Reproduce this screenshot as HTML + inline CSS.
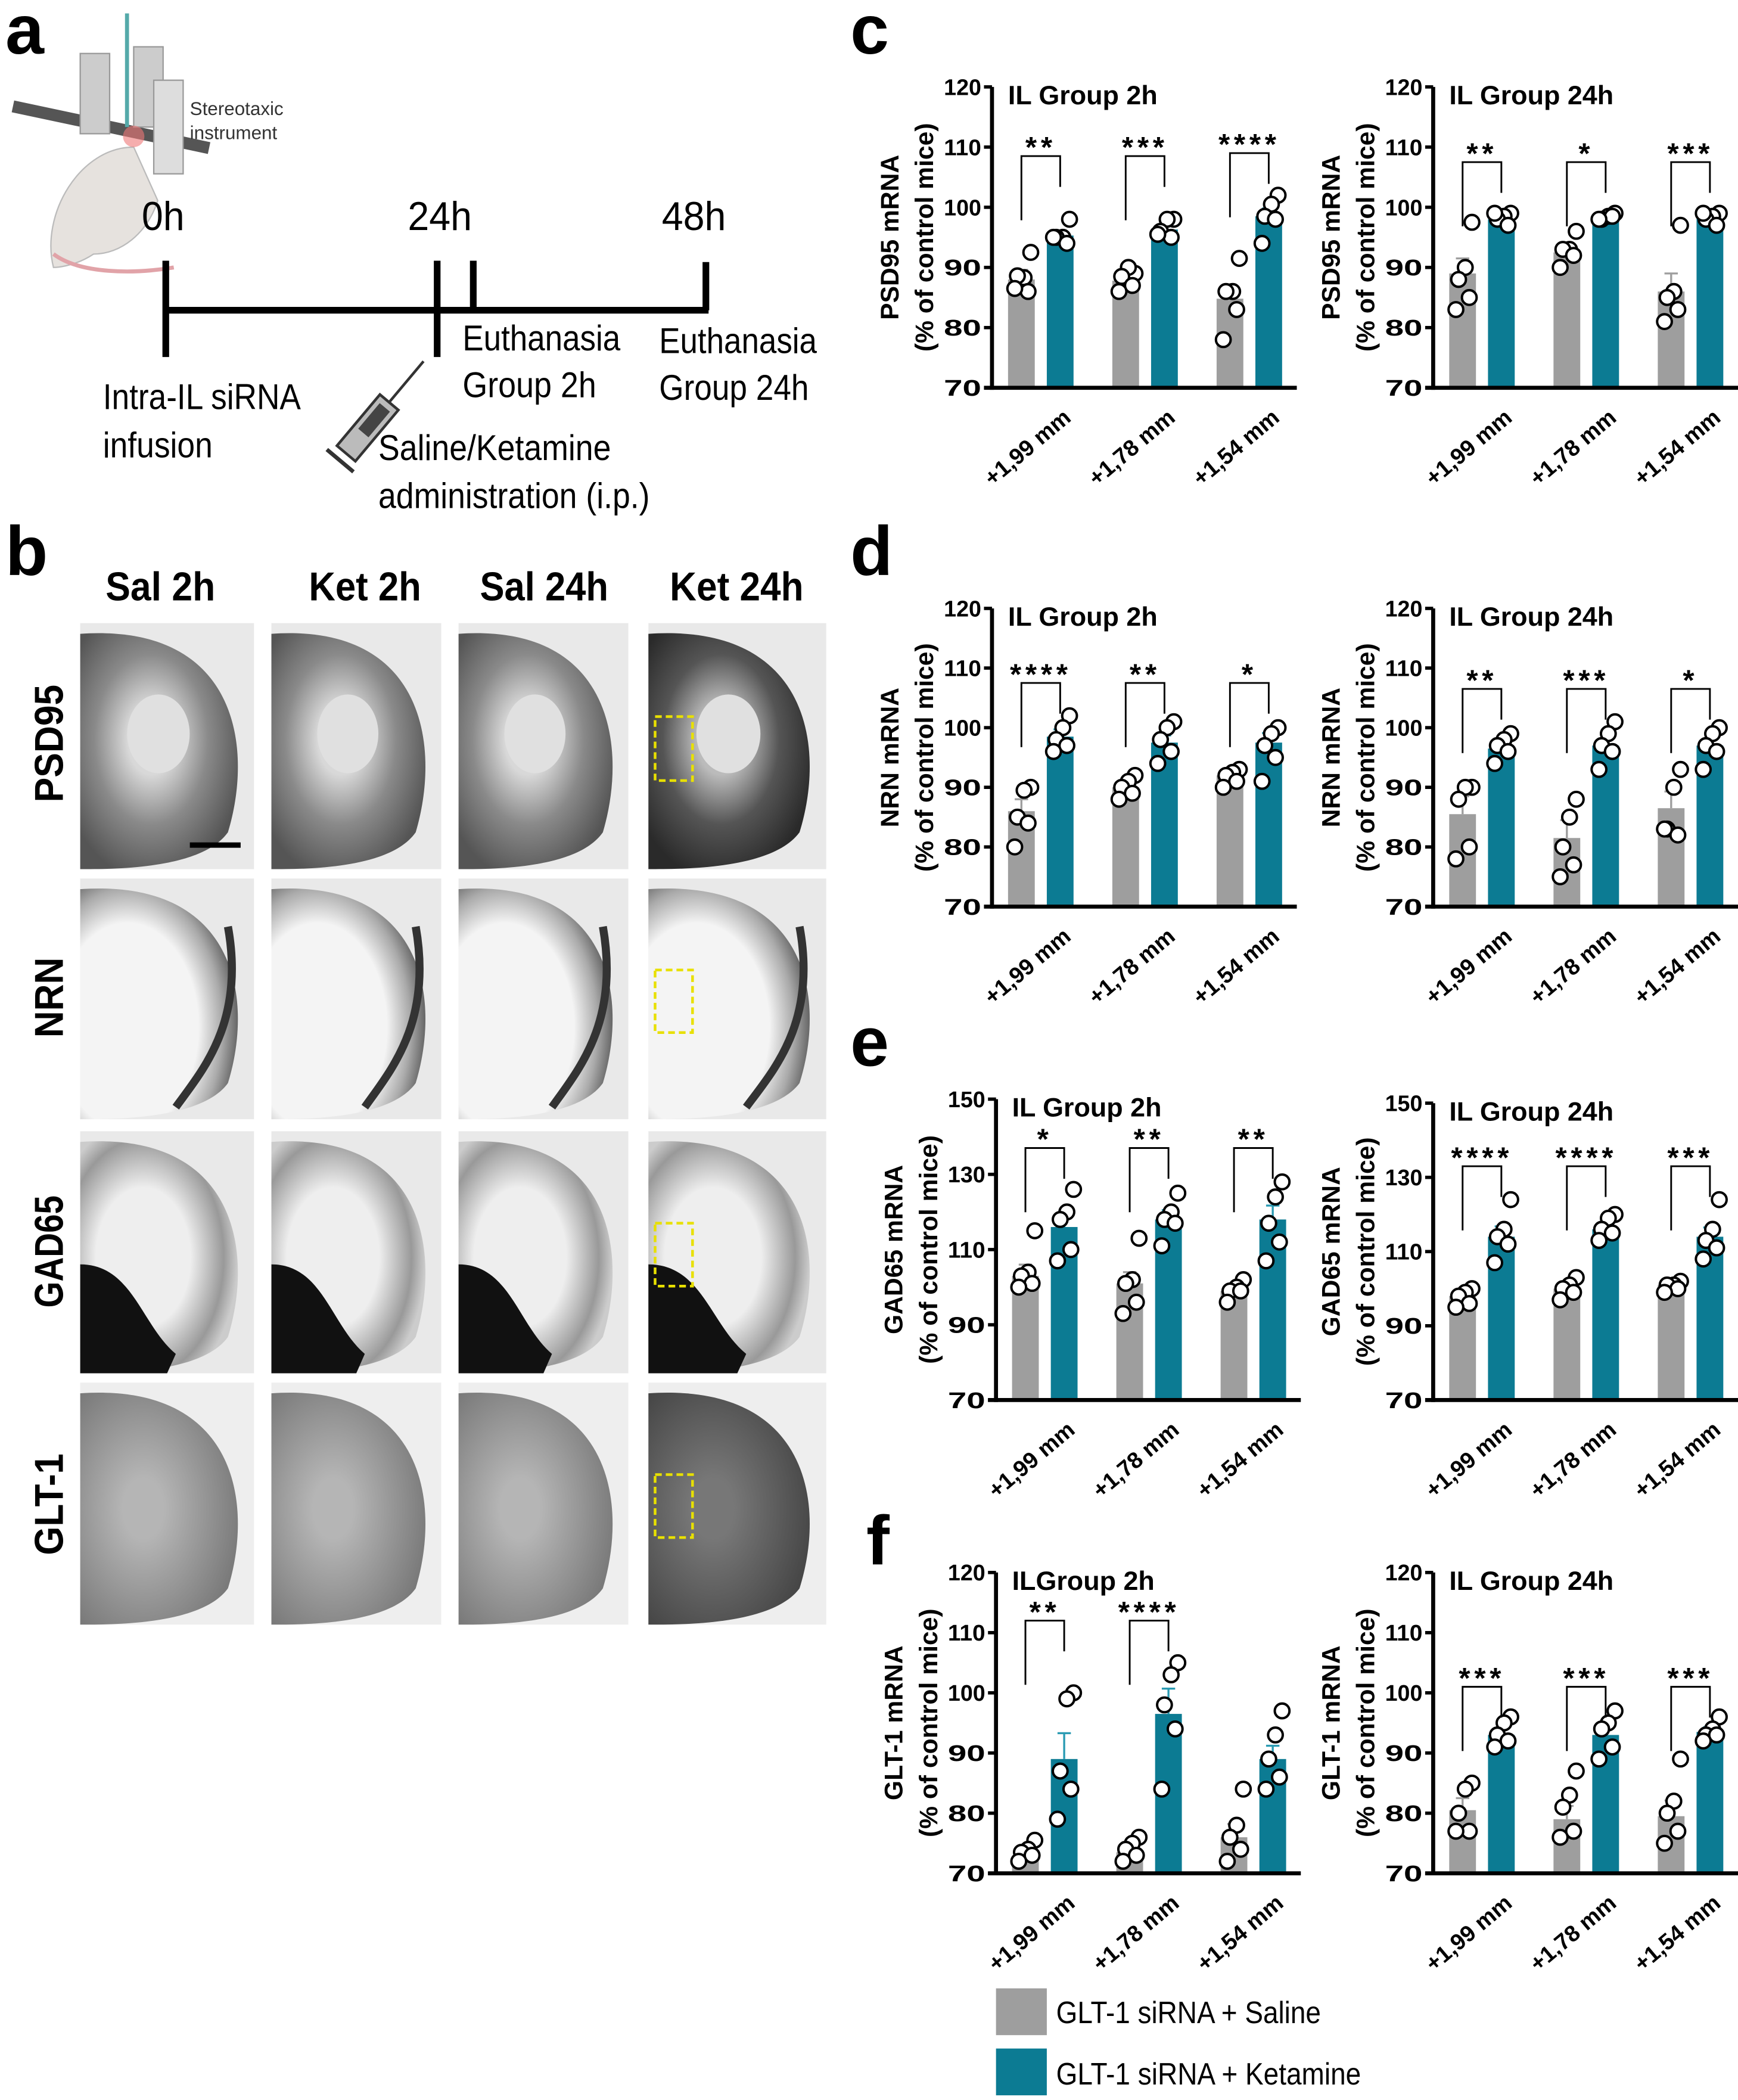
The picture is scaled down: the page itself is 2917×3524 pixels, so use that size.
<!DOCTYPE html>
<html><head><meta charset="utf-8"><style>
html,body{margin:0;padding:0;background:#fff}
svg{display:block}
text{font-family:"Liberation Sans",sans-serif}
</style></head><body>
<svg id="fig" width="2917" height="3524" viewBox="0 0 1300 1570.5" preserveAspectRatio="none" xmlns="http://www.w3.org/2000/svg">
<defs>
<radialGradient id="gPsd" cx="0.45" cy="0.45" r="0.6"><stop offset="0.25" stop-color="#d8d8d8"/><stop offset="0.6" stop-color="#8a8a8a"/><stop offset="1" stop-color="#555"/></radialGradient>
<radialGradient id="gPsdD" cx="0.45" cy="0.45" r="0.6"><stop offset="0.25" stop-color="#bbb"/><stop offset="0.6" stop-color="#555"/><stop offset="1" stop-color="#2a2a2a"/></radialGradient>
<radialGradient id="gNrn" cx="0.3" cy="0.6" r="0.75"><stop offset="0.6" stop-color="#f4f4f4"/><stop offset="0.8" stop-color="#aaa"/><stop offset="1" stop-color="#444"/></radialGradient>
<radialGradient id="gGad" cx="0.4" cy="0.5" r="0.6"><stop offset="0.5" stop-color="#eee"/><stop offset="0.85" stop-color="#999"/><stop offset="1" stop-color="#ccc"/></radialGradient>
<radialGradient id="gGlt" cx="0.4" cy="0.5" r="0.65"><stop offset="0.2" stop-color="#b5b5b5"/><stop offset="1" stop-color="#777"/></radialGradient>
<radialGradient id="gGltD" cx="0.4" cy="0.5" r="0.65"><stop offset="0.2" stop-color="#777"/><stop offset="1" stop-color="#444"/></radialGradient>
</defs>

<text x="4" y="40" font-size="52" font-weight="bold">a</text>
<text x="4" y="430" font-size="52" font-weight="bold">b</text>
<text x="636" y="40" font-size="52" font-weight="bold">c</text>
<text x="636" y="430" font-size="52" font-weight="bold">d</text>
<text x="636" y="797" font-size="52" font-weight="bold">e</text>
<text x="648" y="1170" font-size="52" font-weight="bold">f</text>

<g>
<path d="M40 200 C30 160 60 110 100 110 L118 150 C110 175 90 190 70 190 C55 200 40 200 40 200 Z" fill="#e6e2de" stroke="#bbb"/>
<path d="M40 190 C60 205 100 205 130 200" stroke="#e1a3a8" stroke-width="3" fill="none"/>
<rect x="8" y="90" width="150" height="9" fill="#555" transform="rotate(12 80 95)"/>
<rect x="60" y="40" width="22" height="60" fill="#ccc" stroke="#999"/>
<rect x="100" y="35" width="22" height="60" fill="#ccc" stroke="#999"/>
<rect x="115" y="60" width="22" height="70" fill="#ddd" stroke="#999"/>
<line x1="95" y1="10" x2="95" y2="95" stroke="#5aa" stroke-width="3"/>
<circle cx="100" cy="102" r="8" fill="#e77" opacity="0.6"/>
<text x="142" y="86" font-size="14" fill="#333">Stereotaxic</text>
<text x="142" y="104" font-size="14" fill="#333">instrument</text>
</g>
<g stroke="#000" stroke-width="5">
<line x1="122" y1="232" x2="530" y2="232"/>
<line x1="124" y1="195" x2="124" y2="267"/>
<line x1="327" y1="195" x2="327" y2="267"/>
<line x1="354" y1="195" x2="354" y2="232"/>
<line x1="528" y1="196" x2="528" y2="232"/>
</g>
<g font-size="30">
<text x="106" y="172" textLength="32" lengthAdjust="spacingAndGlyphs">0h</text>
<text x="305" y="172" textLength="48" lengthAdjust="spacingAndGlyphs">24h</text>
<text x="495" y="172" textLength="48" lengthAdjust="spacingAndGlyphs">48h</text>
<text x="346" y="262" font-size="27" textLength="118" lengthAdjust="spacingAndGlyphs">Euthanasia</text>
<text x="346" y="297" font-size="27" textLength="100" lengthAdjust="spacingAndGlyphs">Group 2h</text>
<text x="493" y="264" font-size="27" textLength="118" lengthAdjust="spacingAndGlyphs">Euthanasia</text>
<text x="493" y="299" font-size="27" textLength="112" lengthAdjust="spacingAndGlyphs">Group 24h</text>
<text x="77" y="306" font-size="27" textLength="148" lengthAdjust="spacingAndGlyphs">Intra-IL siRNA</text>
<text x="77" y="342" font-size="27" textLength="82" lengthAdjust="spacingAndGlyphs">infusion</text>
<text x="283" y="344" font-size="27" textLength="174" lengthAdjust="spacingAndGlyphs">Saline/Ketamine</text>
<text x="283" y="380" font-size="27" textLength="203" lengthAdjust="spacingAndGlyphs">administration (i.p.)</text>
</g>
<g transform="rotate(40 275 320)">
<rect x="266" y="295" width="18" height="50" fill="#bbb" stroke="#333" stroke-width="2"/>
<rect x="270" y="300" width="10" height="25" fill="#444"/>
<line x1="275" y1="295" x2="275" y2="255" stroke="#333" stroke-width="2"/>
<line x1="262" y1="352" x2="288" y2="352" stroke="#333" stroke-width="3"/>
</g>

<g font-size="30" font-weight="bold" text-anchor="middle">
<text x="120" y="449" textLength="82" lengthAdjust="spacingAndGlyphs">Sal 2h</text>
<text x="273" y="449" textLength="84" lengthAdjust="spacingAndGlyphs">Ket 2h</text>
<text x="407" y="449" textLength="96" lengthAdjust="spacingAndGlyphs">Sal 24h</text>
<text x="551" y="449" textLength="100" lengthAdjust="spacingAndGlyphs">Ket 24h</text>
</g>
<g font-size="30" font-weight="bold" text-anchor="middle">
<text transform="translate(47 556) rotate(-90)" textLength="88" lengthAdjust="spacingAndGlyphs">PSD95</text>
<text transform="translate(47 746) rotate(-90)" textLength="60" lengthAdjust="spacingAndGlyphs">NRN</text>
<text transform="translate(47 936) rotate(-90)" textLength="84" lengthAdjust="spacingAndGlyphs">GAD65</text>
<text transform="translate(47 1125) rotate(-90)" textLength="76" lengthAdjust="spacingAndGlyphs">GLT-1</text>
</g>
<g id="brains"></g>

<g id="charts"></g>

<g>
<rect x="745" y="1487" width="38" height="35" fill="#9e9e9e"/>
<text x="790" y="1513" font-size="23" textLength="198" lengthAdjust="spacingAndGlyphs">GLT-1 siRNA + Saline</text>
<rect x="745" y="1532" width="38" height="35" fill="#0c7b93"/>
<text x="790" y="1559" font-size="23" textLength="228" lengthAdjust="spacingAndGlyphs">GLT-1 siRNA + Ketamine</text>
</g>
</svg>
<script>
const NS="http://www.w3.org/2000/svg";
const categories=["+1,99 mm","+1,78 mm","+1,54 mm"];
const psd2hSalMean=[88,87.8,84.8], psd2hKetMean=[95.3,96.3,98.5];
const psd2hSalErr=[1.6,0.8,2.2], psd2hKetErr=[0.6,0.7,1.3];
const psd2hSalPts=[[92.5,88.3,88.6,86,86.5],[89,90,88.5,87,86],[91.5,86,86,83,78]];
const psd2hKetPts=[[98,95,95,94,95],[98,98,96,95,95.5],[102,100.5,98.5,98,94]];
const psd2hStars=["**","***","****"], psd2hBkt=[108.5,108.5,109];
const psd24hSalMean=[89,92.5,86], psd24hKetMean=[98,98.5,98.5];
const psd24hSalErr=[2.5,1.5,3], psd24hKetErr=[0.6,0.4,0.4];
const psd24hSalPts=[[97.5,90,88,85,83],[96,93,93,92,90],[97,86,85,83,81]];
const psd24hKetPts=[[99,98.5,98,97,99],[99,98.5,98,98.5,98],[99,98.5,98,97,99]];
const psd24hStars=["**","*","***"], psd24hBkt=[107.5,107.5,107.5];
const nrn2hSalMean=[86,90,92], nrn2hKetMean=[98.5,97.5,97.5];
const nrn2hSalErr=[2,0.7,0.6], nrn2hKetErr=[1.2,1.2,1.6];
const nrn2hSalPts=[[90,89.5,85,84,80],[92,91,90,89,88],[93,92.5,92,91,90]];
const nrn2hKetPts=[[102,100,98,97,96],[101,100,98,96,94],[100,99,97,95,91]];
const nrn2hStars=["****","**","*"], nrn2hBkt=[107.5,107.5,107.5];
const nrn24hSalMean=[85.5,81.5,86.5], nrn24hKetMean=[96.5,97,97];
const nrn24hSalErr=[3,3,2.8], nrn24hKetErr=[0.9,1.2,1.2];
const nrn24hSalPts=[[90,90,88,80,78],[88,85,80,77,75],[93,90,83,82,83]];
const nrn24hKetPts=[[99,98,97,96,94],[101,99,97,96,93],[100,99,97,96,93]];
const nrn24hStars=["**","***","*"], nrn24hBkt=[106.5,106.5,106.5];
const gad2hSalMean=[103,101,99], gad2hKetMean=[116,118,118];
const gad2hSalErr=[3,3,1.3], gad2hKetErr=[3.2,2.5,3.7];
const gad2hSalPts=[[115,104,103,101,100],[113,102,101,96,93],[102,100,99,99,96]];
const gad2hKetPts=[[126,120,118,110,107],[125,120,118,117,111],[128,124,117,112,107]];
const gad2hStars=["*","**","**"], gad2hBkt=[137,137,137];
const gad24hSalMean=[98,100,101], gad24hKetMean=[114,116,114];
const gad24hSalErr=[1,1,0.6], gad24hKetErr=[2.8,1.4,2.5];
const gad24hSalPts=[[100,99,98,96,95],[103,101,100,99,97],[102,101,101,100,99]];
const gad24hKetPts=[[124,116,114,112,107],[120,119,116,115,113],[124,116,113,111,108]];
const gad24hStars=["****","****","***"], gad24hBkt=[133,133,133];
const glt2hSalMean=[73,73.5,76], glt2hKetMean=[89,96.5,89];
const glt2hSalErr=[0.6,0.8,2.2], glt2hKetErr=[4.3,4.2,2.2];
const glt2hSalPts=[[75.5,74,73.5,73,72],[76,75,74,73,72],[84,78,76,74,72]];
const glt2hKetPts=[[100,99,87,84,79],[105,103,98,94,84],[97,93,89,86,84]];
const glt2hStars=["**","****",""], glt2hBkt=[112,112,null];
const glt24hSalMean=[80.5,79,79.5], glt24hKetMean=[93,93,93.5];
const glt24hSalErr=[2,2.2,2.6], glt24hKetErr=[1,1.4,0.8];
const glt24hSalPts=[[85,84,80,77,77],[87,83,81,77,76],[89,82,80,77,75]];
const glt24hKetPts=[[96,95,93,92,91],[97,95,94,91,89],[96,94,93,93,92]];
const glt24hStars=["***","***","***"], glt24hBkt=[101,101,101];

const ticks120=[70,80,90,100,110,120], ticks150=[70,90,110,130,150];

const charts=[
 {n:"psd95-2h",ax:742,top:65,bot:290,min:70,max:120,ticks:ticks120,title:"IL Group 2h",yl:"PSD95 mRNA",s:psd2hSalMean,k:psd2hKetMean,se:psd2hSalErr,ke:psd2hKetErr,sp:psd2hSalPts,kp:psd2hKetPts,st:psd2hStars,b:psd2hBkt},
 {n:"psd95-24h",ax:1072,top:65,bot:290,min:70,max:120,ticks:ticks120,title:"IL Group 24h",yl:"PSD95 mRNA",s:psd24hSalMean,k:psd24hKetMean,se:psd24hSalErr,ke:psd24hKetErr,sp:psd24hSalPts,kp:psd24hKetPts,st:psd24hStars,b:psd24hBkt},
 {n:"nrn-2h",ax:742,top:455,bot:678,min:70,max:120,ticks:ticks120,title:"IL Group 2h",yl:"NRN mRNA",s:nrn2hSalMean,k:nrn2hKetMean,se:nrn2hSalErr,ke:nrn2hKetErr,sp:nrn2hSalPts,kp:nrn2hKetPts,st:nrn2hStars,b:nrn2hBkt},
 {n:"nrn-24h",ax:1072,top:455,bot:678,min:70,max:120,ticks:ticks120,title:"IL Group 24h",yl:"NRN mRNA",s:nrn24hSalMean,k:nrn24hKetMean,se:nrn24hSalErr,ke:nrn24hKetErr,sp:nrn24hSalPts,kp:nrn24hKetPts,st:nrn24hStars,b:nrn24hBkt},
 {n:"gad65-2h",ax:745,top:822,bot:1047,min:70,max:150,ticks:ticks150,title:"IL Group 2h",yl:"GAD65 mRNA",s:gad2hSalMean,k:gad2hKetMean,se:gad2hSalErr,ke:gad2hKetErr,sp:gad2hSalPts,kp:gad2hKetPts,st:gad2hStars,b:gad2hBkt},
 {n:"gad65-24h",ax:1072,top:825,bot:1047,min:70,max:150,ticks:ticks150,title:"IL Group 24h",yl:"GAD65 mRNA",s:gad24hSalMean,k:gad24hKetMean,se:gad24hSalErr,ke:gad24hKetErr,sp:gad24hSalPts,kp:gad24hKetPts,st:gad24hStars,b:gad24hBkt},
 {n:"glt1-2h",ax:745,top:1176,bot:1401,min:70,max:120,ticks:ticks120,title:"ILGroup 2h",yl:"GLT-1 mRNA",s:glt2hSalMean,k:glt2hKetMean,se:glt2hSalErr,ke:glt2hKetErr,sp:glt2hSalPts,kp:glt2hKetPts,st:glt2hStars,b:glt2hBkt},
 {n:"glt1-24h",ax:1072,top:1176,bot:1401,min:70,max:120,ticks:ticks120,title:"IL Group 24h",yl:"GLT-1 mRNA",s:glt24hSalMean,k:glt24hKetMean,se:glt24hSalErr,ke:glt24hKetErr,sp:glt24hSalPts,kp:glt24hKetPts,st:glt24hStars,b:glt24hBkt}
];
function mk(tag,attrs,parent,txt){const e=document.createElementNS(NS,tag);for(const k in attrs)e.setAttribute(k,attrs[k]);if(txt!==undefined)e.textContent=txt;parent.appendChild(e);return e;}
const root=document.getElementById("charts");
const offs=[7,2,-3,5,-5];
charts.forEach(c=>{
 const g=mk("g",{},root);
 
 
 const y=v=>c.bot-(v-c.min)/(c.max-c.min)*(c.bot-c.top);
 const xs=i=>c.ax+22+i*78, xk=i=>c.ax+51+i*78;
 categories.forEach((cat,i)=>{
  [[xs(i),c.s[i],c.se[i],c.sp[i],"#9e9e9e","#9e9e9e","saline"],[xk(i),c.k[i],c.ke[i],c.kp[i],"#0c7b93","#2a9bb3","ketamine"]].forEach(([cx,m,e,pts,col,ecol,nm])=>{
   const r=mk("rect",{x:cx-10,y:y(m),width:20,height:c.bot-y(m),fill:col},g);
   
   
   mk("line",{x1:cx,x2:cx,y1:y(m),y2:y(m+e),stroke:ecol,"stroke-width":1.5},g);
   mk("line",{x1:cx-5,x2:cx+5,y1:y(m+e),y2:y(m+e),stroke:ecol,"stroke-width":1.5},g);
   pts.forEach((p,j)=>{
    const d=mk("circle",{cx:cx+offs[j],cy:y(p),r:5.5,fill:"#fff",stroke:"#000","stroke-width":1.8},g);
    
    
   });
  });
  if(c.b[i]!==null){
   const by=y(c.b[i]);
   mk("path",{d:`M${xs(i)} ${by+48} V${by} H${xk(i)} V${by+23}`,fill:"none",stroke:"#000","stroke-width":1.3},g);
   const s=mk("text",{x:(xs(i)+xk(i))/2,y:by+1,"font-size":22,"font-weight":"bold","text-anchor":"middle","letter-spacing":"3"},g,c.st[i]);
   
   
  }
  const tl=mk("text",{"font-size":17,"font-weight":"bold","text-anchor":"end",transform:`translate(${xs(i)+38} ${c.bot+24}) rotate(-40)`},g,cat);
  
  
 });
 mk("line",{x1:c.ax,x2:c.ax,y1:c.top,y2:c.bot+1.5,stroke:"#000","stroke-width":3},g);
 mk("line",{x1:c.ax-6,x2:c.ax+228,y1:c.bot,y2:c.bot,stroke:"#000","stroke-width":3},g);
 c.ticks.forEach(t=>{
  mk("line",{x1:c.ax-6,x2:c.ax,y1:y(t),y2:y(t),stroke:"#000","stroke-width":2.5},g);
  const tt=mk("text",{x:c.ax-8,y:y(t)+6,"font-size":17,"font-weight":"bold","text-anchor":"end",textLength:28,lengthAdjust:"spacingAndGlyphs"},g,t);
  
  
 });
 const ti=mk("text",{x:c.ax+12,y:c.top+13,"font-size":20,"font-weight":"bold"},g,c.title);
 
 
 const mid=(c.top+c.bot)/2;
 const y1=mk("text",{"font-size":19,"font-weight":"bold","text-anchor":"middle",transform:`translate(${c.ax-70} ${mid}) rotate(-90)`},g,c.yl);
 
 
 const y2=mk("text",{"font-size":19,"font-weight":"bold","text-anchor":"middle",transform:`translate(${c.ax-44} ${mid}) rotate(-90)`},g,"(% of control mice)");
 
 
});

const bg=document.getElementById("brains");
const cols=[[60,190],[203,330],[343,470],[485,618]];
const rows=[[466,650],[657,837],[846,1027],[1034,1215]];
const fills=[["url(#gPsd)","url(#gPsd)","url(#gPsd)","url(#gPsdD)"],["url(#gNrn)","url(#gNrn)","url(#gNrn)","url(#gNrn)"],["url(#gGad)","url(#gGad)","url(#gGad)","url(#gGad)"],["url(#gGlt)","url(#gGlt)","url(#gGlt)","url(#gGltD)"]];
rows.forEach((r,ri)=>cols.forEach((c,ci)=>{
 const w=c[1]-c[0],h=r[1]-r[0];
 const gg=mk("g",{},bg);
 
 
 mk("rect",{x:c[0],y:r[0],width:w,height:h,fill:ri==3?"#eeeeee":"#e9e9e9"},gg);
 mk("path",{d:`M${c[0]} ${r[0]+8} C${c[0]+w*0.9} ${r[0]} ${c[0]+w} ${r[0]+h*0.5} ${c[0]+w*0.85} ${r[0]+h*0.85} C${c[0]+w*0.7} ${r[0]+h} ${c[0]+w*0.2} ${r[0]+h} ${c[0]} ${r[0]+h} Z`,fill:fills[ri][ci]},gg);
 if(ri==0) mk("ellipse",{cx:c[0]+w*0.45,cy:r[0]+h*0.45,rx:w*0.18,ry:h*0.16,fill:"#e0e0e0"},gg);
 if(ri==2) mk("path",{d:`M${c[0]} ${r[0]+h*0.55} C${c[0]+w*0.3} ${r[0]+h*0.55} ${c[0]+w*0.35} ${r[0]+h*0.8} ${c[0]+w*0.55} ${r[0]+h*0.92} L${c[0]+w*0.5} ${r[0]+h} L${c[0]} ${r[0]+h} Z`,fill:"#111"},gg);
 if(ri==1) mk("path",{d:`M${c[0]+w*0.55} ${r[0]+h*0.95} C${c[0]+w*0.7} ${r[0]+h*0.8} ${c[0]+w*0.95} ${r[0]+h*0.6} ${c[0]+w*0.85} ${r[0]+h*0.2}`,fill:"none",stroke:"#333","stroke-width":6},gg);
 if(ci==3) mk("rect",{x:c[0]+5,y:r[0]+h*0.38,width:28,height:h*0.26,fill:"none",stroke:"#e8e000","stroke-width":2,"stroke-dasharray":"5 3"},gg);
}));
mk("line",{x1:142,x2:180,y1:632,y2:632,stroke:"#000","stroke-width":4},bg);
</script>
</body></html>
